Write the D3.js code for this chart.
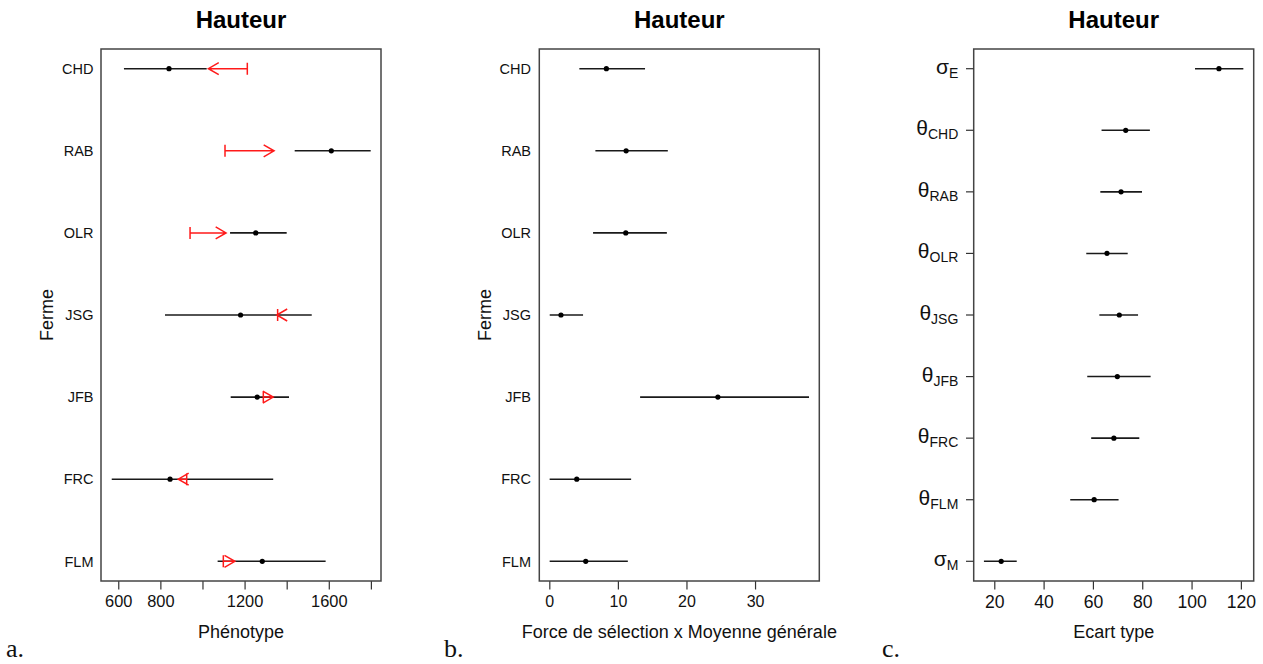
<!DOCTYPE html>
<html><head><meta charset="utf-8">
<script src="https://cdn.jsdelivr.net/npm/d3@7"></script>
<style>
body{margin:0;background:#fff;}
svg{display:block;font-family:"Liberation Sans",Arial,sans-serif;}
</style></head>
<body><svg id="chart" width="1263" height="664"></svg>
<script>
// ---------- data ----------
const farms = ["CHD","RAB","OLR","JSG","JFB","FRC","FLM"];
const phenoMean = [841,1612,1253,1181,1260,846,1284];
const phenoLow  = [627,1438,1131,822,1134,569,1072];
const phenoHigh = [1020,1799,1400,1519,1411,1336,1585];
const arrowFrom = [1213,1107,941,1357,1289,925,1099];
const arrowTo   = [1028,1340,1112,1353,1336,885,1154];
const phenoTicks = [600,800,1000,1200,1400,1600,1800];
const phenoTickLabels = ["600","800","","1200","","1600",""];

const selMean = [8.32,11.2,11.15,1.7,24.58,4.0,5.31];
const selLow  = [4.38,6.72,6.38,0.06,13.24,0.05,0.05];
const selHigh = [13.96,17.28,17.14,4.92,37.87,11.93,11.45];
const selTicks = [0,10,20,30];

const paramSymbols = ["σ","θ","θ","θ","θ","θ","θ","θ","σ"];
const paramSubs = ["E","CHD","RAB","OLR","JSG","JFB","FRC","FLM","M"];
const sdMean = [111.1,73.3,71.4,65.7,70.7,69.9,68.5,60.5,22.8];
const sdLow  = [101.4,63.5,63.0,57.3,62.6,57.7,59.3,50.8,15.8];
const sdHigh = [121.0,83.1,79.9,74.1,78.3,83.4,78.8,70.4,29.1];
const sdTicks = [20,40,60,80,100,120];

const svg = d3.select("#chart");
const plotTop = 49, plotBottom = 581;

function panel(opt){
  const g = svg.append("g");
  const n = opt.n;
  const x = d3.scaleLinear().domain(opt.xdomain).range([opt.left, opt.left+280]);
  const ext = (n-1)*0.04;
  const y = d3.scaleLinear().domain([1-ext, n+ext]).range([plotTop, plotBottom]);
  g.append("text").attr("x", opt.left+140).attr("y", 27.5).attr("text-anchor","middle")
    .attr("font-size",24).attr("font-weight","bold").text("Hauteur");
  const ax = d3.axisBottom(x).tickValues(opt.ticks).tickSize(8.5).tickPadding(6)
    .tickFormat((d,i)=> opt.tickLabels ? opt.tickLabels[i] : String(d));
  const axg = g.append("g").attr("transform",`translate(0,${plotBottom})`).call(ax);
  axg.select(".domain").remove();
  axg.selectAll(".tick line").attr("stroke","#333").attr("stroke-width",1.2);
  axg.selectAll(".tick text").attr("font-size",opt.tickFont).attr("fill","#111")
     .attr("font-family","Liberation Sans, Arial, sans-serif");
  g.append("rect").attr("x",opt.left).attr("y",plotTop).attr("width",280).attr("height",plotBottom-plotTop)
    .attr("fill","none").attr("stroke","#444").attr("stroke-width",1.5);
  g.append("text").attr("x",opt.left+140).attr("y",638).attr("text-anchor","middle")
    .attr("font-size",18).attr("fill","#111").text(opt.xlabel);
  g.append("text").attr("x",opt.letterX).attr("y",657).attr("font-size",26)
    .attr("font-family","'Liberation Serif','DejaVu Serif',serif").attr("fill","#111").text(opt.letter);
  return {g,x,y};
}

function drawIntervals(p, lo, hi, mid){
  p.g.append("g").selectAll("line").data(mid).join("line")
    .attr("x1",(d,i)=>p.x(lo[i])).attr("x2",(d,i)=>p.x(hi[i]))
    .attr("y1",(d,i)=>p.y(i+1)).attr("y2",(d,i)=>p.y(i+1))
    .attr("stroke","#1a1a1a").attr("stroke-width",1.6);
  p.g.append("g").selectAll("circle").data(mid).join("circle")
    .attr("cx",d=>p.x(d)).attr("cy",(d,i)=>p.y(i+1)).attr("r",2.6).attr("fill","#000");
}

// ----- panel a -----
const pa = panel({n:7,xdomain:[518,1848],left:101,ticks:phenoTicks,tickLabels:phenoTickLabels,
  tickFont:16.4,xlabel:"Phénotype",letter:"a.",letterX:6});
pa.g.selectAll(".ylab").data(farms).join("text").attr("class","ylab")
  .attr("x",93.5).attr("y",(d,i)=>pa.y(i+1)).attr("dy","0.36em").attr("text-anchor","end")
  .attr("font-size",14.5).attr("fill","#111").text(d=>d);
pa.g.append("text").attr("transform",`translate(53,315) rotate(-90)`).attr("text-anchor","middle")
  .attr("font-size",18).attr("fill","#111").text("Ferme");
drawIntervals(pa, phenoLow, phenoHigh, phenoMean);
const L = 12, ang = Math.PI/6, bar = 6;
const arrowG = pa.g.append("g").attr("stroke","#ff1a1a").attr("stroke-width",1.5).attr("fill","none");
arrowFrom.forEach((f,i)=>{
  const x0 = pa.x(f), x1 = pa.x(arrowTo[i]), yy = pa.y(i+1);
  const dir = x1 >= x0 ? 1 : -1;
  const bx = x1 - dir*L*Math.cos(ang), by = L*Math.sin(ang);
  arrowG.append("path").attr("d",
    `M${x0},${yy}L${x1},${yy}M${x0},${yy-bar}L${x0},${yy+bar}M${bx},${yy-by}L${x1},${yy}L${bx},${yy+by}`);
});

// ----- panel b -----
const pb = panel({n:7,xdomain:[-1.46,39.37],left:539.3,ticks:selTicks,tickFont:16,
  xlabel:"Force de sélection x Moyenne générale",letter:"b.",letterX:444});
pb.g.selectAll(".ylab").data(farms).join("text").attr("class","ylab")
  .attr("x",531).attr("y",(d,i)=>pb.y(i+1)).attr("dy","0.36em").attr("text-anchor","end")
  .attr("font-size",14.5).attr("fill","#111").text(d=>d);
pb.g.append("text").attr("transform",`translate(491,315) rotate(-90)`).attr("text-anchor","middle")
  .attr("font-size",18).attr("fill","#111").text("Ferme");
drawIntervals(pb, selLow, selHigh, selMean);

// ----- panel c -----
const pc = panel({n:9,xdomain:[11.65,125.2],left:973.7,ticks:sdTicks,tickFont:17.6,
  xlabel:"Ecart type",letter:"c.",letterX:882});
const yt = pc.g.append("g");
paramSubs.forEach((s,i)=>{
  const yy = pc.y(i+1);
  yt.append("line").attr("x1",966).attr("x2",973.7).attr("y1",yy).attr("y2",yy)
    .attr("stroke","#333").attr("stroke-width",1.2);
  const t = yt.append("text").attr("x",958.3).attr("y",yy+5).attr("text-anchor","end").attr("fill","#111");
  t.append("tspan").attr("font-size",21).text(paramSymbols[i]);
  t.append("tspan").attr("font-size",14).attr("dy",4).text(s);
});
drawIntervals(pc, sdLow, sdHigh, sdMean);
</script></body></html>
